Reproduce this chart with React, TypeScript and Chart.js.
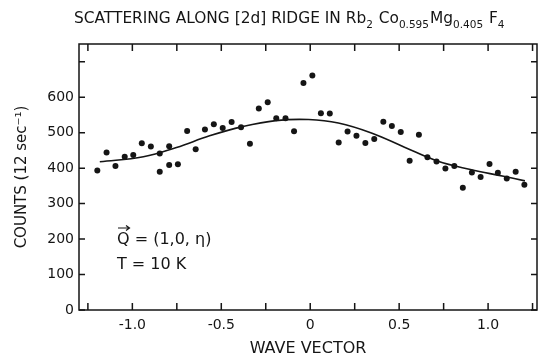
import React, { useEffect, useRef } from 'react';
import { Chart, registerables } from 'chart.js';

Chart.register(...registerables);

// Measured data points (wave vector, counts per 12 sec)
const waveVector = [
  -1.197, -1.145, -1.095, -1.043, -0.995, -0.947, -0.896, -0.846, -0.846, -0.793,
  -0.793, -0.744, -0.692, -0.644, -0.592, -0.542, -0.492, -0.442, -0.389, -0.339,
  -0.289, -0.239, -0.191, -0.139, -0.091, -0.038, 0.012, 0.06, 0.11, 0.16,
  0.21, 0.26, 0.31, 0.36, 0.411, 0.459, 0.509, 0.559, 0.611, 0.659,
  0.71, 0.76, 0.81, 0.858, 0.909, 0.958, 1.008, 1.055, 1.105, 1.155, 1.204,
];
const counts = [
  393, 444, 406, 432, 437, 470, 461, 441, 390, 462,
  409, 411, 505, 453, 509, 524, 513, 530, 515, 469,
  568, 586, 541, 541, 504, 640, 661, 555, 554, 472,
  503, 491, 471, 482, 531, 519, 502, 421, 494, 431,
  419, 399, 406, 345, 388, 375, 412, 387, 371, 390, 353,
];

// Fitted curve
const fitWaveVector = [
  -1.183, -0.938, -0.752, -0.566, -0.381, -0.194,
  -0.009, 0.158, 0.344, 0.53, 0.715,
  0.901, 1.087, 1.207,
];
const fitCounts = [
  418, 432, 458, 491, 517, 534,
  537, 527, 499, 459, 420,
  396, 377, 364,
];

const xTickValues = [-1.25, -1.0, -0.75, -0.5, -0.25, 0, 0.25, 0.5, 0.75, 1.0, 1.25];
const xTickLabels = ['', '-1.0', '', '-0.5', '', '0', '', '0.5', '', '1.0', ''];
const yTickValues = [0, 100, 200, 300, 400, 500, 600, 700];
const yTickLabels = ['0', '100', '200', '300', '400', '500', '600', ''];

const titleParts: [string, boolean][] = [
  ['SCATTERING ALONG [2d] RIDGE IN Rb', false],
  ['2', true],
  [' Co', false],
  ['0.595', true],
  ['Mg', false],
  ['0.405', true],
  [' F', false],
  ['4', true],
];
const annotationLine1 = 'Q = (1,0, η)';
const annotationLine2 = 'T = 10 K';
const xTitle = 'WAVE VECTOR';
const yTitle = 'COUNTS (12 sec⁻¹)';

const FONT = '"DejaVu Sans", sans-serif';
const INK = '#151515';

const framePlugin = {
  id: 'frameAndText',
  afterDraw(chart: any) {
    const { ctx, chartArea: a, scales } = chart;
    const x = scales.x;
    const y = scales.y;
    ctx.save();
    ctx.strokeStyle = INK;
    ctx.lineWidth = 1.5;
    ctx.strokeRect(a.left, a.top, a.right - a.left, a.bottom - a.top);
    ctx.beginPath();
    for (const v of xTickValues) {
      const px = x.getPixelForValue(v);
      ctx.moveTo(px, a.bottom);
      ctx.lineTo(px, a.bottom - 7);
      ctx.moveTo(px, a.top);
      ctx.lineTo(px, a.top + 7);
    }
    for (const v of yTickValues) {
      const py = y.getPixelForValue(v);
      ctx.moveTo(a.left, py);
      ctx.lineTo(a.left + 6, py);
      ctx.moveTo(a.right, py);
      ctx.lineTo(a.right - 6, py);
    }
    ctx.stroke();

    // Title with subscripts
    ctx.fillStyle = INK;
    ctx.textBaseline = 'alphabetic';
    ctx.textAlign = 'left';
    let tx = 74;
    const ty = 23;
    for (const [t, sub] of titleParts) {
      ctx.font = sub ? `10.5px ${FONT}` : `15.4px ${FONT}`;
      ctx.fillText(t, tx, sub ? ty + 5 : ty);
      tx += ctx.measureText(t).width + (sub ? 1 : 0);
    }

    // Annotation
    ctx.font = `16px ${FONT}`;
    ctx.fillText(annotationLine1, 117, 244);
    ctx.fillText(annotationLine2, 117, 269);
    // vector arrow over Q
    ctx.beginPath();
    ctx.lineWidth = 1.2;
    ctx.moveTo(118, 228);
    ctx.lineTo(129, 228);
    ctx.moveTo(126, 225.5);
    ctx.lineTo(129.5, 228);
    ctx.lineTo(126, 230.5);
    ctx.stroke();
    ctx.restore();
  },
};

export default function App() {
  const ref = useRef<HTMLCanvasElement | null>(null);
  useEffect(() => {
    if (!ref.current) return;
    const chart = new Chart(ref.current, {
      type: 'scatter',
      data: {
        datasets: [
          {
            label: 'fit',
            data: fitWaveVector.map((v, i) => ({ x: v, y: fitCounts[i] })),
            showLine: true,
            borderColor: INK,
            borderWidth: 1.6,
            pointRadius: 0,
            tension: 0.4,
            fill: false,
          } as any,
          {
            label: 'data',
            data: waveVector.map((v, i) => ({ x: v, y: counts[i] })),
            showLine: false,
            pointRadius: 3,
            pointBackgroundColor: INK,
            pointBorderColor: INK,
            pointBorderWidth: 0,
          },
        ],
      },
      options: {
        responsive: false,
        animation: false,
        layout: { padding: { left: 0, right: 1, top: 44, bottom: 0 } },
        plugins: {
          legend: { display: false },
          tooltip: { enabled: false },
          title: { display: false },
        },
        scales: {
          x: {
            type: 'linear',
            min: -1.3,
            max: 1.275,
            afterFit: (s: any) => {
              s.height = 48;
            },
            afterBuildTicks: (s: any) => {
              s.ticks = xTickValues.map((v) => ({ value: v }));
            },
            ticks: {
              callback: (_v: any, i: number) => xTickLabels[i],
              color: INK,
              font: { family: FONT, size: 14 },
              padding: 7,
              maxRotation: 0,
              autoSkip: false,
            },
            grid: { display: false, drawTicks: false },
            border: { display: false },
            title: {
              display: true,
              text: xTitle,
              color: INK,
              font: { family: FONT, size: 16 },
              padding: { top: 0, bottom: 0 },
            },
          },
          y: {
            type: 'linear',
            min: 0,
            max: 750,
            afterFit: (s: any) => {
              s.width = 79;
            },
            afterBuildTicks: (s: any) => {
              s.ticks = yTickValues.map((v) => ({ value: v }));
            },
            ticks: {
              callback: (_v: any, i: number) => yTickLabels[i],
              color: INK,
              font: { family: FONT, size: 14 },
              padding: 5,
              autoSkip: false,
            },
            grid: { display: false, drawTicks: false },
            border: { display: false },
            title: {
              display: true,
              text: yTitle,
              color: INK,
              font: { family: FONT, size: 15 },
              padding: { top: 13, bottom: 0 },
            },
          },
        },
      },
      plugins: [framePlugin],
    });
    return () => chart.destroy();
  }, []);

  return (
    <div style={{ position: 'fixed', left: 0, top: 0, width: 541, height: 358, background: '#fff' }}>
      <canvas ref={ref} width={541} height={358} style={{ display: 'block', width: 541, height: 358 }} />
    </div>
  );
}
